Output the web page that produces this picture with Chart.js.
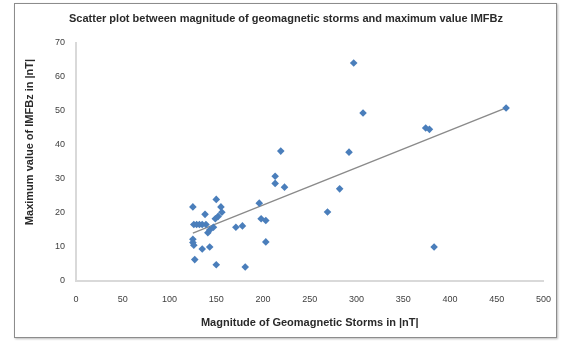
<!DOCTYPE html>
<html>
<head>
<title>Geomagnetic storms vs IMFBz</title>
<script src="https://cdn.jsdelivr.net/npm/chart.js"></script>
<style>
    body { margin: 0; background: #fff; }
    #frame { position: absolute; left: 14px; top: 3px; width: 541px; height: 333px;
             border: 1px solid #8c8c8c; box-shadow: 1px 1px 2px #bbb; }
    #c { position: absolute; left: 0; top: 0; }
</style>
</head>
<body>
<div id="frame"></div>
<canvas id="c" width="564" height="342"></canvas>
<script>
    // values
    const stormMag = [125, 126, 129, 132, 135, 139, 138, 125, 125, 126, 127, 135, 143, 150, 181,
                      141, 143, 147, 149, 152, 150, 155, 156, 171, 178, 196, 198, 203, 203,
                      213, 213, 219, 223, 269, 282, 292, 297, 307, 374, 378, 383, 460];
    const imfBz = [21.8, 16.6, 16.6, 16.6, 16.6, 16.6, 19.6, 12.3, 11.3, 10.5, 6.3, 9.4, 10.0, 4.8, 4.1,
                   14.2, 15.0, 15.8, 18.3, 19.0, 24.0, 21.8, 20.2, 15.8, 16.2, 22.9, 18.3, 17.8, 11.5,
                   30.8, 28.7, 38.2, 27.6, 20.3, 27.1, 37.9, 64.1, 49.4, 45.0, 44.6, 10.0, 50.9];
    const trendX = [125, 460];
    const trendY = [14.1, 50.9];
    const xTicks = [0, 50, 100, 150, 200, 250, 300, 350, 400, 450, 500];
    const yTicks = [0, 10, 20, 30, 40, 50, 60, 70];

    const points = stormMag.map((x, i) => ({ x: x, y: imfBz[i] }));
    const trend = trendX.map((x, i) => ({ x: x, y: trendY[i] }));

    const labelFont = '"Liberation Sans", Arial, sans-serif';

    const textPlugin = {
        id: 'texts',
        afterDraw(chart) {
            const ctx = chart.ctx;
            const area = chart.chartArea;
            ctx.save();
            ctx.fillStyle = '#2a2a2a';
            ctx.textAlign = 'center';
            ctx.textBaseline = 'middle';
            ctx.font = 'bold 11px ' + labelFont;
            ctx.fillText('Scatter plot between magnitude of geomagnetic storms and maximum value IMFBz', 286, 19);
            ctx.fillText('Magnitude of Geomagnetic Storms in |nT|', (area.left + area.right) / 2, 323);
            ctx.translate(30, 142);
            ctx.rotate(-Math.PI / 2);
            ctx.fillText('Maximum value of IMFBz in |nT|', 0, 0);
            ctx.restore();
        }
    };

    new Chart(document.getElementById('c').getContext('2d'), {
        type: 'scatter',
        data: {
            datasets: [{
                data: points,
                pointStyle: 'rectRot',
                pointRadius: 3.8,
                backgroundColor: '#4a7ebb',
                borderColor: '#4a7ebb',
                borderWidth: 0
            }, {
                type: 'line',
                data: trend,
                borderColor: '#8a8a8a',
                borderWidth: 1.4,
                pointRadius: 0,
                showLine: true
            }]
        },
        options: {
            responsive: false,
            animation: false,
            layout: { padding: { top: 43, right: 17, bottom: 0, left: 0 } },
            plugins: { legend: { display: false }, tooltip: { enabled: false } },
            scales: {
                x: {
                    type: 'linear',
                    min: 0,
                    max: 500,
                    afterBuildTicks: s => { s.ticks = xTicks.map(v => ({ value: v })); },
                    afterFit: s => { s.height = 61; },
                    ticks: { color: '#404040', font: { size: 9, family: labelFont }, padding: 13 },
                    grid: { display: true, drawOnChartArea: false, drawTicks: false },
                    border: { color: '#d9d9d9', width: 2 }
                },
                y: {
                    min: 0,
                    max: 70,
                    afterBuildTicks: s => { s.ticks = yTicks.map(v => ({ value: v })); },
                    afterFit: s => { s.width = 76; },
                    ticks: { color: '#404040', font: { size: 9, family: labelFont }, padding: 11 },
                    grid: { display: true, drawOnChartArea: false, drawTicks: false },
                    border: { color: '#d9d9d9', width: 2 }
                }
            }
        },
        plugins: [textPlugin]
    });
</script>
</body>
</html>
